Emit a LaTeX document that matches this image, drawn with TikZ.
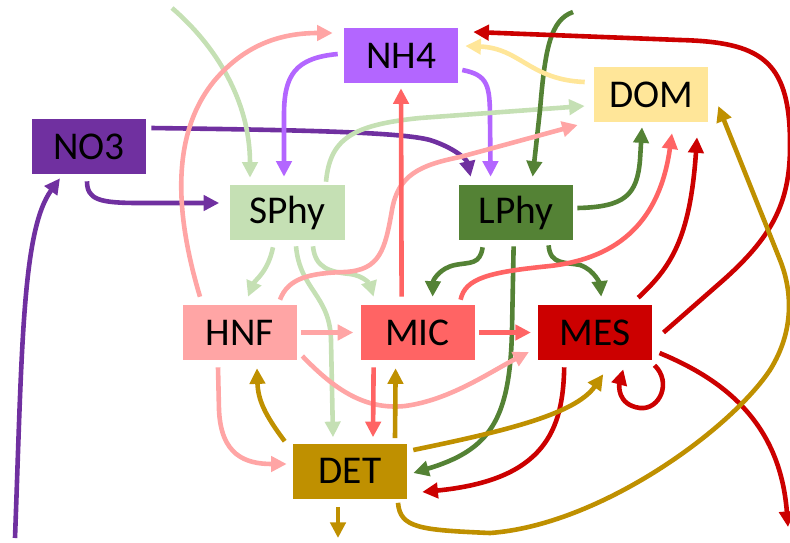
\documentclass[tikz,border=0pt]{standalone}
\usepackage{fontspec}
\setmainfont{Carlito}
\usetikzlibrary{arrows.meta, positioning, calc}

\definecolor{no3col}{HTML}{7030A0}
\definecolor{nh4col}{HTML}{B366FF}
\definecolor{sphycol}{HTML}{C5E0B4}
\definecolor{lphycol}{HTML}{548235}
\definecolor{domcol}{HTML}{FFE699}
\definecolor{hnfcol}{HTML}{FFA5A5}
\definecolor{miccol}{HTML}{FF6464}
\definecolor{mescol}{HTML}{CC0000}
\definecolor{detcol}{HTML}{BF9000}

\begin{document}
\begin{tikzpicture}[
        x=0.025cm, y=-0.025cm,
        box/.style={rectangle, minimum width=2.85cm, minimum height=1.375cm, inner sep=0pt, font=\fontsize{28}{30}\selectfont},
        arr/.style={-{Triangle[length=3.9mm, width=3.8mm]}, line width=1.15mm},
        node distance=1.575cm
        ]
        \useasboundingbox (0,0) rectangle (790,542);
        % pools
        \node[box, fill=nh4col]  (nh4)  at (401,55.5)  {NH4};
        \node[box, fill=no3col]  (no3)  at (89,146.5)  {NO3};
        \node[box, fill=domcol]  (dom)  at (651,94.5)  {DOM};
        \node[box, fill=sphycol] (sphy) at (287.5,212.5) {SPhy};
        \node[box, fill=lphycol, right=2.85cm of sphy] (lphy) {LPhy};
        \node[box, fill=hnfcol]  (hnf)  at (240,332.5) {HNF};
        \node[box, fill=miccol, right=of hnf] (mic) {MIC};
        \node[box, fill=mescol, right=of mic] (mes) {MES};
        \node[box, fill=detcol]  (det)  at (350,471)   {DET};
        % open ends
        \coordinate (sphyin) at (172,8);
        \coordinate (lphyin) at (573,12);
        \coordinate (no3in)  at (15,538);
        \coordinate (mesout) at (788,527);
        \coordinate (detout) at (338,538);

        % nitrogen
        \draw[arr, no3col] (no3in) .. controls (22,350) and (22,230) .. ($(no3.south)+(-29,4)$);
        \draw[arr, no3col] ($(no3.south)+(-2,7)$) .. controls (87,200) and (100,203) .. (140,203) -- ($(sphy.west)+(-11,-9.5)$);
        \draw[arr, no3col] ($(no3.east)+(5,-18.5)$) .. controls (300,130) and (400,132) .. (430,140) .. controls (455,148) and (467,160) .. ($(lphy.north)+(-45.5,-8)$);
        \draw[arr, nh4col] ($(nh4.west)+(-6,-1.5)$) .. controls (295,58) and (284,75) .. (284,115) -- ($(sphy.north)+(-3.5,-8)$);
        \draw[arr, nh4col] ($(nh4.east)+(4,14.5)$) .. controls (488,75) and (490,85) .. (490,120) -- ($(lphy.north)+(-25.5,-8)$);

        % phytoplankton
        \draw[arr, sphycol] (sphyin) .. controls (215,45) and (250,100) .. ($(sphy.north)+(-37.5,-7)$);
        \draw[arr, sphycol] ($(sphy.north)+(38.5,-3)$) .. controls (330,140) and (350,125) .. (420,118) -- ($(dom.west)+(-9,11.5)$);
        \draw[arr, sphycol] ($(sphy.south)+(-14.5,7)$) .. controls (268,272) and (255,280) .. ($(hnf.north)+(8,-8)$);
        \draw[arr, sphycol] ($(sphy.south)+(8.5,6)$) .. controls (300,290) and (330,295) .. (331,340) -- ($(det.north)+(-17,-6)$);
        \draw[arr, sphycol] ($(sphy.south)+(25.5,6)$) .. controls (315,268) and (330,272) .. (350,274) .. controls (365,276) and (370,285) .. ($(mic.north)+(-44,-8)$);
        \draw[arr, lphycol] (lphyin) .. controls (550,20) and (545,50) .. (540,110) -- ($(lphy.north)+(16.5,-8)$);
        \draw[arr, lphycol] ($(lphy.east)+(4,-4.5)$) .. controls (625,207) and (637,195) .. (640,160) -- ($(dom.south)+(-9,5)$);
        \draw[arr, lphycol] ($(lphy.south)+(-33.5,7)$) .. controls (480,265) and (470,262) .. (455,265) .. controls (440,268) and (433,280) .. ($(mic.north)+(15,-8)$);
        \draw[arr, lphycol] ($(lphy.south)+(-2.5,6)$) -- (512,330) .. controls (510,420) and (490,450) .. ($(det.east)+(6,2)$);
        \draw[arr, lphycol] ($(lphy.south)+(32.5,5)$) .. controls (550,265) and (565,262) .. (580,265) .. controls (595,270) and (600,285) .. ($(mes.north)+(6,-8)$);

        % DOM
        \draw[arr, domcol] ($(dom.west)+(-9,-12.5)$) .. controls (530,80) and (520,48) .. ($(nh4.east)+(7,-9.5)$);

        % HNF
        \draw[arr, hnfcol] ($(hnf.north)+(-40,-8)$) .. controls (180,230) and (165,140) .. (215,80) .. controls (245,45) and (280,33) .. ($(nh4.west)+(-11,-22.5)$);
        \draw[arr, hnfcol] ($(hnf.north)+(40,-5)$) .. controls (288,278) and (310,273) .. (345,272) .. controls (380,270) and (385,250) .. (392,210) .. controls (398,175) and (420,165) .. (460,157) -- ($(dom.west)+(-16,30.5)$);
        \draw[arr, hnfcol] ($(hnf.east)+(4,0)$) -- ($(mic.west)+(-7,0)$);
        \draw[arr, hnfcol] ($(hnf.east)+(5,23.5)$) .. controls (335,390) and (365,410) .. (405,406) .. controls (450,400) and (490,372) .. ($(mes.west)+(-9,19.5)$);
        \draw[arr, hnfcol] ($(hnf.south)+(-22,7)$) -- (219,410) .. controls (221,455) and (245,464) .. ($(det.west)+(-6,-7)$);

        % MIC
        \draw[arr, miccol] ($(mic.north)+(-16,-8)$) -- ($(nh4.south)+(0,5)$);
        \draw[arr, miccol] ($(mic.north)+(43,-5)$) .. controls (465,278) and (490,272) .. (550,266) .. controls (620,258) and (660,220) .. ($(dom.south)+(21,11)$);
        \draw[arr, miccol] ($(mic.east)+(4,0)$) -- ($(mes.west)+(-7,0)$);
        \draw[arr, miccol] ($(mic.south)+(-44,7)$) -- ($(det.north)+(23,-6)$);

        % MES
        \draw[arr, mescol] ($(mes.east)+(11,0)$) -- (720,283) .. controls (775,235) and (791,200) .. (790,140) .. controls (789,60) and (760,42) .. (680,40) -- ($(nh4.east)+(15,-23.5)$);
        \draw[arr, mescol] ($(mes.north)+(43,-7)$) .. controls (670,268) and (690,240) .. ($(dom.south)+(46,15)$);
        \draw[arr, mescol] ($(mes.south)+(-31,7)$) .. controls (563,430) and (545,480) .. ($(det.east)+(15,21)$);
        \draw[arr, mescol] ($(mes.south east)+(2,5)$) .. controls (672,382) and (660,410) .. (640,408) .. controls (617,405) and (619,385) .. ($(mes.south)+(28,9)$);
        \draw[arr, mescol] ($(mes.east)+(7,20.5)$) .. controls (720,378) and (780,420) .. (mesout);

        % DET
        \draw[arr, detcol] ($(det.north)+(45,-5)$) -- ($(mic.south)+(-22,8)$);
        \draw[arr, detcol] ($(det.north west)+(-8,-2)$) .. controls (265,415) and (258,400) .. ($(hnf.south)+(17,8)$);
        \draw[arr, detcol] ($(det.east)+(6,-21)$) .. controls (500,432) and (575,415) .. ($(mes.south)+(8,14)$);
        \draw[arr, detcol] ($(det.south)+(48,4)$) .. controls (400,528) and (420,530) .. (490,533) .. controls (600,525) and (730,430) .. (770,370) .. controls (795,330) and (792,290) .. (780,260) -- ($(dom.east)+(10,11.5)$);
        \draw[arr, detcol] ($(det.south)+(-12,8)$) -- (detout);
    \end{tikzpicture}
\end{document}
